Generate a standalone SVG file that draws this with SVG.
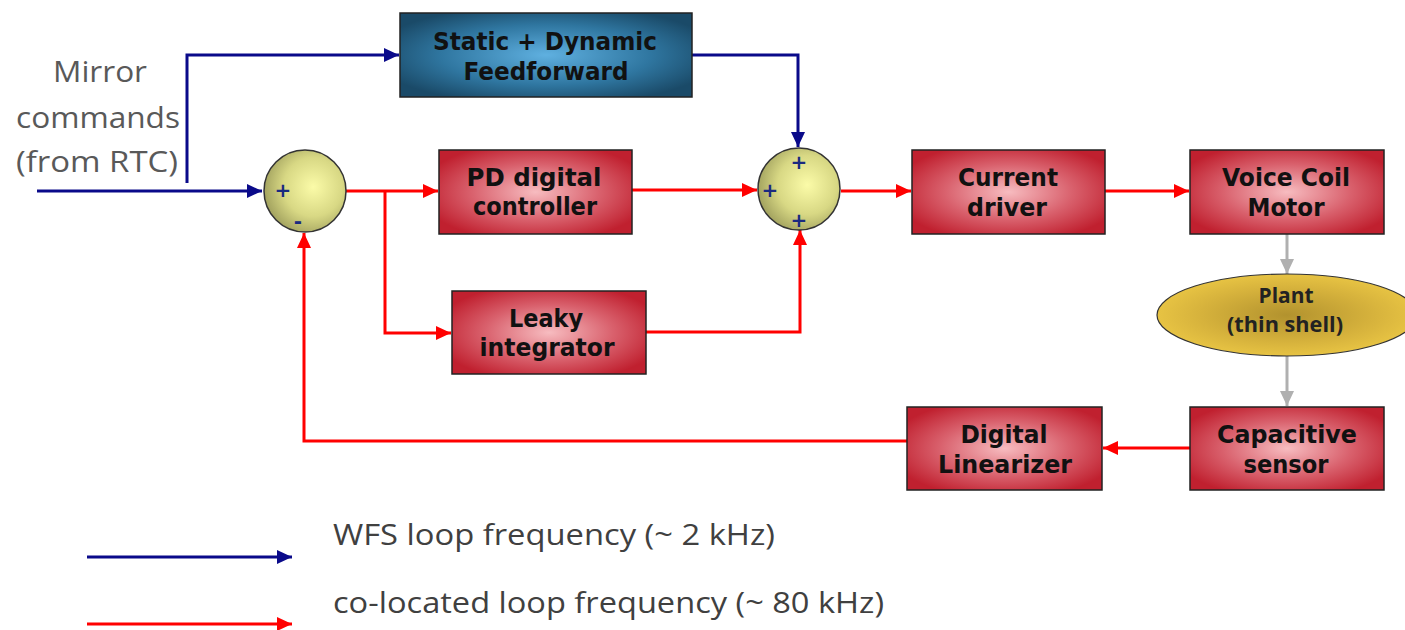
<svg xmlns="http://www.w3.org/2000/svg" width="1405" height="630" viewBox="0 0 1405 630">
<style>
.box{stroke:#222;stroke-width:1.5}
.red{fill:url(#gRed)}
.t{font-family:"DejaVu Sans",sans-serif;font-weight:bold;font-size:25px;fill:#111;text-anchor:middle}
.pt{font-family:"Open Sans","Liberation Sans",sans-serif;font-weight:bold;font-size:21px;fill:#222;text-anchor:middle}
.sg{font-family:"DejaVu Sans",sans-serif;font-weight:bold;font-size:20px;fill:#1a2a80;text-anchor:middle}
.lbl{font-family:"Open Sans","Liberation Sans",sans-serif;font-size:29px;fill:#595959}
.leg{font-family:"Open Sans","Liberation Sans",sans-serif;font-size:30px;fill:#404040}
.cb{fill:none;stroke:#0a0a8a;stroke-width:3}
.cr{fill:none;stroke:#ff0000;stroke-width:3}
.cg{fill:none;stroke:#b0b0b0;stroke-width:3}
</style>
<defs>
<radialGradient id="gRed" cx="0.5" cy="0.5" r="0.6">
<stop offset="0" stop-color="#f7bcc0"/>
<stop offset="0.55" stop-color="#d9616d"/>
<stop offset="1" stop-color="#c0202f"/>
</radialGradient>
<radialGradient id="gBlue" cx="0.5" cy="0.5" r="0.6">
<stop offset="0" stop-color="#5fb0e0"/>
<stop offset="0.6" stop-color="#2f76a0"/>
<stop offset="1" stop-color="#1a4a68"/>
</radialGradient>
<radialGradient id="gSum" cx="0.6" cy="0.45" r="0.6">
<stop offset="0" stop-color="#fbfba8"/>
<stop offset="0.6" stop-color="#d8d884"/>
<stop offset="1" stop-color="#a4a460"/>
</radialGradient>
<radialGradient id="gPlant" cx="0.5" cy="0.5" r="0.55">
<stop offset="0" stop-color="#b2922e"/>
<stop offset="0.6" stop-color="#d6b23c"/>
<stop offset="1" stop-color="#ecc845"/>
</radialGradient>
<marker id="aB" markerUnits="userSpaceOnUse" markerWidth="16" markerHeight="14" refX="15" refY="7" orient="auto"><path d="M0,0 L15,7 L0,14 z" fill="#0a0a8a"/></marker>
<marker id="aR" markerUnits="userSpaceOnUse" markerWidth="16" markerHeight="14" refX="15" refY="7" orient="auto"><path d="M0,0 L15,7 L0,14 z" fill="#ff0000"/></marker>
<marker id="aG" markerUnits="userSpaceOnUse" markerWidth="16" markerHeight="14" refX="15" refY="7" orient="auto"><path d="M0,0 L15,7 L0,14 z" fill="#b0b0b0"/></marker>
</defs>
<rect width="1405" height="630" fill="#fff"/>

<g id="connectors">
<path class="cb" d="M37,191 H262" marker-end="url(#aB)"/>
<path class="cb" d="M187,183 V55 H399" marker-end="url(#aB)"/>
<path class="cb" d="M692,55 H798 V147" marker-end="url(#aB)"/>
<path class="cr" d="M346,191 H438" marker-end="url(#aR)"/>
<path class="cr" d="M385,191 V333 H451" marker-end="url(#aR)"/>
<path class="cr" d="M632,190 H757" marker-end="url(#aR)"/>
<path class="cr" d="M646,332 H800 V230" marker-end="url(#aR)"/>
<path class="cr" d="M841,191 H911" marker-end="url(#aR)"/>
<path class="cr" d="M1105,191 H1189" marker-end="url(#aR)"/>
<path class="cg" d="M1287,234 V274" marker-end="url(#aG)"/>
<path class="cg" d="M1287,356 V406" marker-end="url(#aG)"/>
<path class="cr" d="M1190,448 H1103" marker-end="url(#aR)"/>
<path class="cr" d="M907,441 H304 V233" marker-end="url(#aR)"/>
</g>

<g id="input-label">
<text class="lbl" x="100" y="82" text-anchor="middle" textLength="94" lengthAdjust="spacingAndGlyphs">Mirror</text>
<text class="lbl" x="98" y="128" text-anchor="middle" textLength="164" lengthAdjust="spacingAndGlyphs">commands</text>
<text class="lbl" x="97" y="172" text-anchor="middle" textLength="162" lengthAdjust="spacingAndGlyphs">(from RTC)</text>
</g>

<g id="feedforward">
<rect class="box" x="400" y="13" width="292" height="84" fill="url(#gBlue)"/>
<text class="t" x="545" y="50" textLength="224" lengthAdjust="spacingAndGlyphs">Static + Dynamic</text>
<text class="t" x="546" y="80" textLength="165" lengthAdjust="spacingAndGlyphs">Feedforward</text>
</g>

<g id="sum1">
<circle cx="305" cy="191" r="41" fill="url(#gSum)" stroke="#333" stroke-width="1.5"/>
<text class="sg" x="283" y="197">+</text>
<text class="sg" x="298" y="228">-</text>
</g>

<g id="sum2">
<circle cx="799" cy="189" r="41" fill="url(#gSum)" stroke="#333" stroke-width="1.5"/>
<text class="sg" x="799" y="169">+</text>
<text class="sg" x="770" y="197">+</text>
<text class="sg" x="799" y="227">+</text>
</g>

<g id="pd">
<rect class="box red" x="439" y="150" width="193" height="84"/>
<text class="t" x="534" y="186" textLength="135" lengthAdjust="spacingAndGlyphs">PD  digital</text>
<text class="t" x="535" y="215" textLength="124" lengthAdjust="spacingAndGlyphs">controller</text>
</g>

<g id="leaky">
<rect class="box red" x="452" y="291" width="194" height="83"/>
<text class="t" x="546" y="327" textLength="74" lengthAdjust="spacingAndGlyphs">Leaky</text>
<text class="t" x="547" y="356" textLength="135" lengthAdjust="spacingAndGlyphs">integrator</text>
</g>

<g id="current">
<rect class="box red" x="912" y="150" width="193" height="84"/>
<text class="t" x="1008" y="186" textLength="100" lengthAdjust="spacingAndGlyphs">Current</text>
<text class="t" x="1007" y="216" textLength="80" lengthAdjust="spacingAndGlyphs">driver</text>
</g>

<g id="vcm">
<rect class="box red" x="1190" y="150" width="194" height="84"/>
<text class="t" x="1286" y="186" textLength="128" lengthAdjust="spacingAndGlyphs">Voice Coil</text>
<text class="t" x="1286" y="216" textLength="77" lengthAdjust="spacingAndGlyphs">Motor</text>
</g>

<g id="plant">
<ellipse cx="1287" cy="315" rx="130" ry="41" fill="url(#gPlant)" stroke="#333" stroke-width="1.2"/>
<text class="pt" x="1286" y="303" textLength="55" lengthAdjust="spacingAndGlyphs">Plant</text>
<text class="pt" x="1285" y="332" textLength="116" lengthAdjust="spacingAndGlyphs">(thin shell)</text>
</g>

<g id="sensor">
<rect class="box red" x="1190" y="407" width="194" height="83"/>
<text class="t" x="1287" y="443" textLength="140" lengthAdjust="spacingAndGlyphs">Capacitive</text>
<text class="t" x="1286" y="473" textLength="85" lengthAdjust="spacingAndGlyphs">sensor</text>
</g>

<g id="linearizer">
<rect class="box red" x="907" y="407" width="195" height="83"/>
<text class="t" x="1004" y="443" textLength="87" lengthAdjust="spacingAndGlyphs">Digital</text>
<text class="t" x="1005" y="473" textLength="134" lengthAdjust="spacingAndGlyphs">Linearizer</text>
</g>

<g id="legend">
<path class="cb" d="M87,557 H292" marker-end="url(#aB)"/>
<path class="cr" d="M87,624 H292" marker-end="url(#aR)"/>
<text class="leg" x="333" y="545" textLength="442" lengthAdjust="spacingAndGlyphs">WFS loop frequency (~ 2 kHz)</text>
<text class="leg" x="333" y="613" textLength="551" lengthAdjust="spacingAndGlyphs">co-located loop frequency (~ 80 kHz)</text>
</g>
</svg>
